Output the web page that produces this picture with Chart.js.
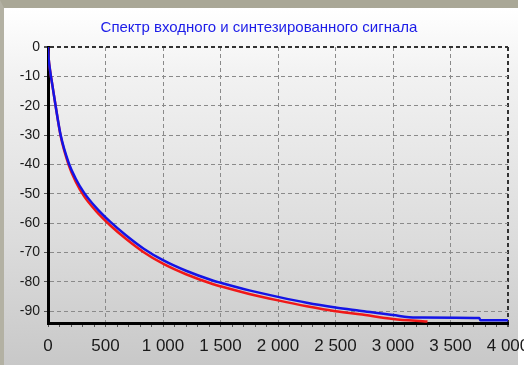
<!DOCTYPE html>
<html>
<head>
<meta charset="utf-8">
<script src="https://cdn.jsdelivr.net/npm/chart.js@4"></script>
<style>
    html, body {
        margin: 0;
        padding: 0;
        width: 524px;
        height: 371px;
        overflow: hidden;
        background: #ffffff;
    }
    .panel {
        position: absolute;
        left: 0;
        top: 0;
        width: 514px;
        height: 357px;
        border-top: 8px solid #a9a796;
        border-left: 4px solid #b3b1a3;
        background: linear-gradient(#ffffff 0%, #f1f1f1 20%, #dcdcdc 65%, #c8c8c8 100%);
    }
    .wrap {
        position: absolute;
        left: 0;
        top: 0;
        width: 560px;
        height: 371px;
    }
</style>
</head>
<body>
<div class="panel"></div>
<div class="wrap">
    <canvas id="spectrumChart" width="560" height="371"></canvas>
</div>
<script>
// входной сигнал (синий)
const inputFreq = [0, 6, 18, 38, 66, 110, 180, 240, 313, 420, 540, 680, 829, 1000, 1200, 1438, 1500, 1750, 2000, 2250, 2500, 2710, 3000, 3200, 3750, 3760, 4000];
const inputLevel = [0, -4, -8, -13, -20, -30, -39.5, -44.8, -49.6, -54.8, -59.5, -64.2, -68.6, -72.6, -76.2, -79.6, -80.3, -82.9, -85.1, -87.1, -88.7, -89.8, -91.3, -92.1, -92.3, -93.1, -93.1];

// синтезированный сигнал (красный)
const synthFreq = [0, 6, 18, 38, 66, 110, 180, 240, 313, 420, 540, 680, 829, 1000, 1200, 1438, 1500, 1750, 2000, 2250, 2500, 2710, 3000, 3300];
const synthLevel = [0, -4, -8, -13, -20, -30.3, -40.2, -45.8, -50.8, -56, -60.7, -65.4, -69.8, -73.8, -77.4, -80.8, -81.5, -84.1, -86.3, -88.3, -90, -91, -92.6, -93.5];

const xTicks = [0, 500, 1000, 1500, 2000, 2500, 3000, 3500, 4000];
const yTicks = [0, -10, -20, -30, -40, -50, -60, -70, -80, -90];

function toPoints(xs, ys) {
    return xs.map((x, i) => ({ x: x, y: ys[i] }));
}

function spaced(v) {
    return String(v).replace(/\B(?=(\d{3})+(?!\d))/g, ' ');
}

const ctx = document.getElementById('spectrumChart');

new Chart(ctx, {
    type: 'line',

    data: {
        datasets: [{
            label: 'Входной',
            data: toPoints(inputFreq, inputLevel),
            borderColor: '#1414e6',
            borderWidth: 2.5,
            pointRadius: 0,
            cubicInterpolationMode: 'monotone'
        }, {
            label: 'Синтезированный',
            data: toPoints(synthFreq, synthLevel),
            borderColor: '#f01818',
            borderWidth: 2.5,
            pointRadius: 0,
            cubicInterpolationMode: 'monotone'
        }]
    },

    options: {
        responsive: false,
        animation: false,

        layout: {
            padding: { left: 10, right: 52, top: 0, bottom: 0 }
        },

        plugins: {
            legend: {
                display: false
            },
            tooltip: {
                enabled: false
            },
            title: {
                display: true,
                text: 'Спектр входного и синтезированного сигнала',
                color: '#1c1ce8',
                font: {
                    family: 'Liberation Sans',
                    size: 15,
                    weight: 'normal'
                },
                padding: { top: 19, bottom: 10 }
            }
        },

        scales: {
            x: {
                type: 'linear',
                min: 0,
                max: 4000,
                afterFit: function(scale) {
                    scale.height = 48;
                },
                ticks: {
                    stepSize: 100,
                    autoSkip: false,
                    maxRotation: 0,
                    padding: 9,
                    color: '#1a1a1a',
                    font: {
                        family: 'Liberation Sans Narrow, Liberation Sans',
                        size: 17
                    },
                    callback: function(value) {
                        return xTicks.includes(value) ? spaced(value) : '';
                    }
                },
                grid: {
                    color: function(c) {
                        if (!c.tick || !xTicks.includes(c.tick.value) || c.tick.value === 0) {
                            return 'transparent';
                        }
                        return c.tick.value === 4000 ? '#333333' : '#8a8a8a';
                    },
                    lineWidth: function(c) {
                        return c.tick && c.tick.value === 4000 ? 2 : 1;
                    },
                    tickColor: '#555555',
                    tickLength: 4
                },
                border: {
                    color: '#000000',
                    width: 3,
                    dash: [4, 3]
                }
            },
            y: {
                min: -94,
                max: 0,
                afterBuildTicks: function(scale) {
                    scale.ticks = yTicks.map(v => ({ value: v }));
                },
                afterFit: function(scale) {
                    scale.width = 38;
                },
                ticks: {
                    padding: 4,
                    color: '#1a1a1a',
                    font: {
                        family: 'Liberation Sans',
                        size: 14
                    }
                },
                grid: {
                    color: function(c) {
                        return c.tick && c.tick.value === 0 ? '#333333' : '#8a8a8a';
                    },
                    lineWidth: function(c) {
                        return c.tick && c.tick.value === 0 ? 2 : 1;
                    },
                    tickColor: '#555555',
                    tickLength: 4
                },
                border: {
                    color: '#000000',
                    width: 3,
                    dash: [4, 3]
                }
            }
        }
    }
});
</script>
</body>
</html>
